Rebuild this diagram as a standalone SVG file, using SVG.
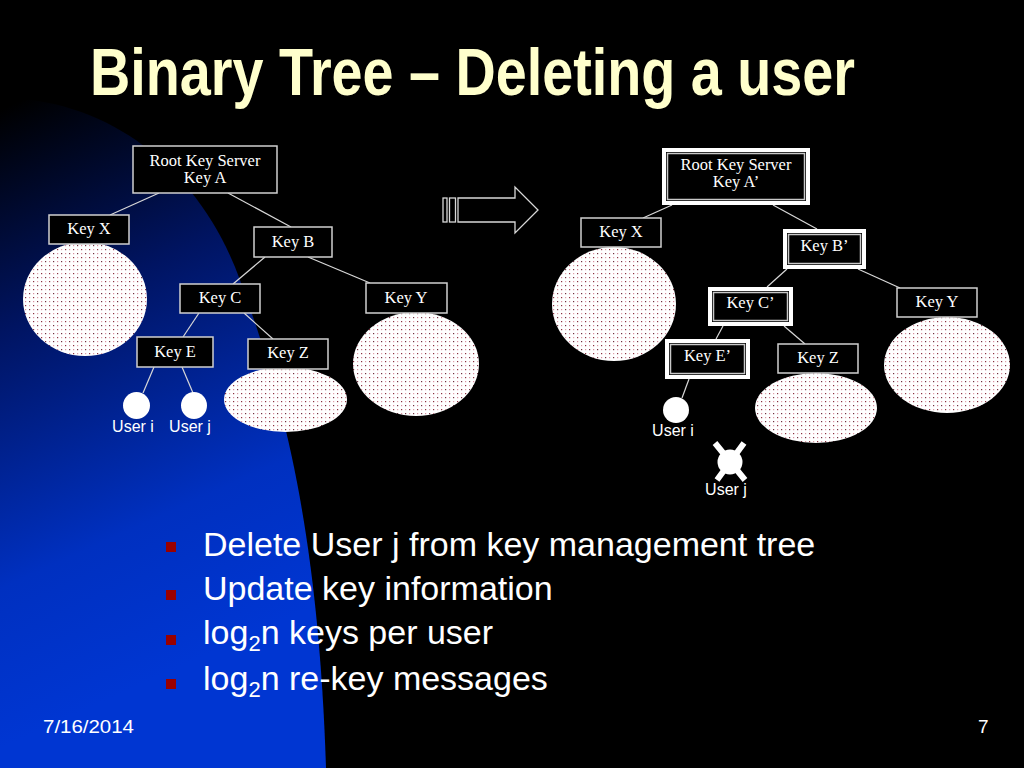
<svg xmlns="http://www.w3.org/2000/svg" width="1024" height="768" viewBox="0 0 1024 768">
<defs>
  <linearGradient id="bg" gradientUnits="userSpaceOnUse" x1="0" y1="110" x2="240" y2="640">
    <stop offset="0" stop-color="#000000"/>
    <stop offset="0.35" stop-color="#001462"/>
    <stop offset="0.75" stop-color="#0030c0"/>
    <stop offset="1" stop-color="#0036d2"/>
  </linearGradient>
  <pattern id="dots" width="8" height="8" patternUnits="userSpaceOnUse">
    <rect width="8" height="8" fill="#ffffff"/>
    <rect x="1" y="1" width="1.2" height="1.2" fill="#8a3040"/>
    <rect x="5" y="1" width="1.2" height="1.2" fill="#e0a0aa"/>
    <rect x="1" y="5" width="1.2" height="1.2" fill="#d890a0"/>
    <rect x="5" y="5" width="1.2" height="1.2" fill="#703040"/>
  </pattern>
  <style>
    .box { fill: #000; stroke: #d0d0d0; stroke-width: 1.5; }
    .outer { fill: #000; stroke: #ffffff; stroke-width: 4; }
    .inner { fill: none; stroke: #c8c8c8; stroke-width: 1.5; }
    .lbl { font-family: "Liberation Serif", "Times New Roman", serif; font-size: 16.5px; fill: #ffffff; text-anchor: middle; }
    .user { font-family: "Liberation Sans", Arial, sans-serif; font-size: 16px; fill: #ffffff; text-anchor: middle; }
    .blob { fill: url(#dots); stroke: none; }
    .leaf { fill: #ffffff; }
    .conn line { stroke: #d8d8d8; stroke-width: 1.2; }
    .bullet { fill: #990000; }
    .btxt { font-family: "Liberation Sans", Arial, sans-serif; font-size: 34px; fill: #ffffff; }
    .foot { font-family: "Liberation Sans", Arial, sans-serif; font-size: 19px; fill: #ffffff; }
  </style>
</defs>

<rect width="1024" height="768" fill="#000000"/>
<path d="M0,98 C110,98 200,170 240,280 C280,390 318,520 326,768 L0,768 Z" fill="url(#bg)"/>

<text x="90" y="95" font-family="'Liberation Sans Narrow','Arial Narrow','Liberation Sans',sans-serif" font-weight="bold" font-size="66" fill="#ffffcc" textLength="765" lengthAdjust="spacingAndGlyphs">Binary Tree – Deleting a user</text>

<!-- connectors -->
<g id="connectors" class="conn">
  <line x1="159" y1="193" x2="110" y2="215"/>
  <line x1="228" y1="193" x2="291" y2="227"/>
  <line x1="265" y1="257" x2="233" y2="284"/>
  <line x1="308" y1="257" x2="370" y2="283"/>
  <line x1="199" y1="313" x2="183" y2="337"/>
  <line x1="244" y1="313" x2="273" y2="339"/>
  <line x1="154" y1="367" x2="143" y2="393"/>
  <line x1="182" y1="367" x2="193" y2="393"/>

  <line x1="672" y1="205" x2="643" y2="218"/>
  <line x1="773" y1="205" x2="817" y2="229"/>
  <line x1="787" y1="269" x2="767" y2="287"/>
  <line x1="858" y1="269" x2="900" y2="288"/>
  <line x1="723" y1="326" x2="716" y2="339"/>
  <line x1="784" y1="326" x2="805" y2="344"/>
  <line x1="689" y1="379" x2="682" y2="398"/>
</g>

<!-- transition arrow -->
<g id="arrow" fill="none" stroke="#d8d8d8" stroke-width="1.3">
  <rect x="443" y="198" width="4" height="24"/>
  <rect x="449.5" y="198" width="6" height="24"/>
  <path d="M458,198 L515,198 L515,187 L538,210 L515,233 L515,222 L458,222 Z"/>
</g>

<!-- left tree -->
<g id="L-blobX"><ellipse class="blob" cx="85" cy="299" rx="62" ry="57"/></g>
<g id="L-blobY"><ellipse class="blob" cx="416" cy="364" rx="63" ry="52"/></g>
<g id="L-blobZ"><ellipse class="blob" cx="285.5" cy="399.5" rx="61.5" ry="32.5"/></g>

<g id="L-root"><rect class="box" x="133" y="146" width="144" height="47"/>
  <text class="lbl" x="205" y="166">Root Key Server</text><text class="lbl" x="205" y="183">Key A</text></g>
<g id="L-keyX"><rect class="box" x="49" y="215" width="80" height="29"/><text class="lbl" x="89" y="234">Key X</text></g>
<g id="L-keyB"><rect class="box" x="254" y="227" width="78" height="30"/><text class="lbl" x="293" y="247">Key B</text></g>
<g id="L-keyC"><rect class="box" x="180" y="284" width="80" height="29"/><text class="lbl" x="220" y="303">Key C</text></g>
<g id="L-keyY"><rect class="box" x="366" y="283" width="81" height="30"/><text class="lbl" x="406" y="303">Key Y</text></g>
<g id="L-keyE"><rect class="box" x="137" y="337" width="76" height="30"/><text class="lbl" x="175" y="357">Key E</text></g>
<g id="L-keyZ"><rect class="box" x="248" y="339" width="80" height="30"/><text class="lbl" x="288" y="358">Key Z</text></g>
<g id="L-userI"><ellipse class="leaf" cx="136.5" cy="405.5" rx="13.5" ry="13.5"/><text class="user" x="133" y="432">User i</text></g>
<g id="L-userJ"><ellipse class="leaf" cx="194" cy="405.5" rx="13" ry="13.5"/><text class="user" x="190" y="432">User j</text></g>

<!-- right tree -->
<g id="R-blobX"><ellipse class="blob" cx="614" cy="304" rx="62" ry="57"/></g>
<g id="R-blobY"><ellipse class="blob" cx="947" cy="365" rx="63" ry="48"/></g>
<g id="R-blobZ"><ellipse class="blob" cx="816" cy="408" rx="61" ry="35"/></g>

<g id="R-root"><rect class="outer" x="664" y="150" width="144" height="53"/><rect class="inner" x="667.5" y="153.5" width="137" height="46"/>
  <text class="lbl" x="736" y="170">Root Key Server</text><text class="lbl" x="736" y="187">Key A’</text></g>
<g id="R-keyX"><rect class="box" x="581" y="218" width="80" height="29"/><text class="lbl" x="621" y="237">Key X</text></g>
<g id="R-keyB"><rect class="outer" x="785" y="231" width="79" height="36"/><rect class="inner" x="788.5" y="234.5" width="72" height="29"/>
  <text class="lbl" x="824.5" y="251">Key B’</text></g>
<g id="R-keyC"><rect class="outer" x="710" y="289" width="81" height="35"/><rect class="inner" x="713.5" y="292.5" width="74" height="28"/>
  <text class="lbl" x="750.5" y="308">Key C’</text></g>
<g id="R-keyY"><rect class="box" x="897" y="288" width="80" height="29"/><text class="lbl" x="937" y="307">Key Y</text></g>
<g id="R-keyE"><rect class="outer" x="667" y="341" width="81" height="36"/><rect class="inner" x="670.5" y="344.5" width="74" height="29"/>
  <text class="lbl" x="707.5" y="361">Key E’</text></g>
<g id="R-keyZ"><rect class="box" x="778" y="344" width="80" height="29"/><text class="lbl" x="818" y="363">Key Z</text></g>
<g id="R-userI"><circle class="leaf" cx="676" cy="410" r="13"/><text class="user" x="673" y="436">User i</text></g>
<g id="R-userJ"><circle class="leaf" cx="730" cy="462" r="12.5"/>
  <path d="M715,443 L745,480 M744,443 L717,480" stroke="#ffffff" stroke-width="6" fill="none"/>
  <text class="user" x="726" y="495">User j</text></g>

<!-- bullets -->
<g id="bullets">
  <rect class="bullet" x="166" y="542" width="10" height="10"/>
  <text class="btxt" x="203" y="556">Delete User j from key management tree</text>
  <rect class="bullet" x="166" y="590" width="10" height="10"/>
  <text class="btxt" x="203" y="600">Update key information</text>
  <rect class="bullet" x="166" y="635" width="10" height="10"/>
  <text class="btxt" x="203" y="644">log<tspan font-size="22" dy="7">2</tspan><tspan dy="-7">n keys per user</tspan></text>
  <rect class="bullet" x="166" y="679" width="10" height="10"/>
  <text class="btxt" x="203" y="690">log<tspan font-size="22" dy="7">2</tspan><tspan dy="-7">n re-key messages</tspan></text>
</g>

<text class="foot" x="43" y="733" textLength="91" lengthAdjust="spacingAndGlyphs">7/16/2014</text>
<text class="foot" x="978" y="733">7</text>
</svg>
